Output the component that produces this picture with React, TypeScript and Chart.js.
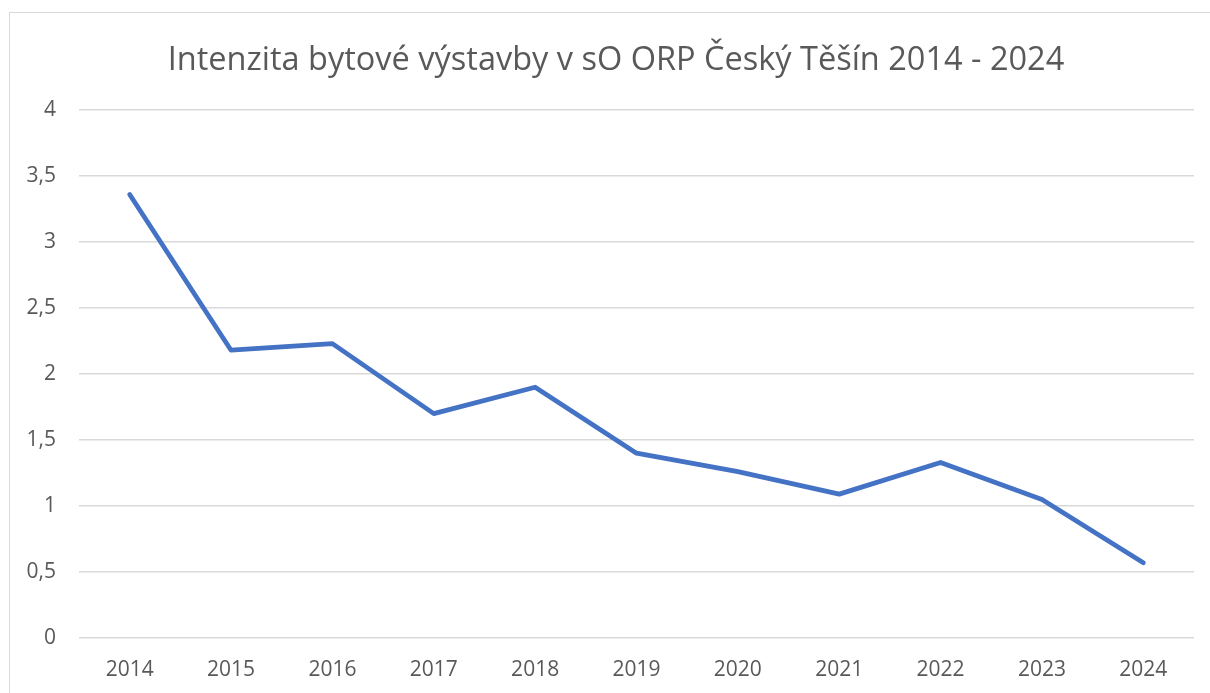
import React, { useEffect, useRef } from "react";
import { Chart, registerables } from "chart.js";

Chart.register(...registerables);

const categories = ["2014", "2015", "2016", "2017", "2018", "2019", "2020", "2021", "2022", "2023", "2024"];
const intensity = [3.36, 2.18, 2.23, 1.7, 1.9, 1.4, 1.26, 1.09, 1.33, 1.05, 0.57];
const titleText = "Intenzita bytové výstavby v sO ORP Český Těšín 2014 - 2024";

const titlePlugin = {
  id: "offsetTitle",
  afterDraw(chart: any) {
    const ctx = chart.ctx;
    ctx.save();
    ctx.font = "32.5px 'Open Sans'";
    ctx.fillStyle = "#595959";
    ctx.textAlign = "center";
    ctx.textBaseline = "middle";
    ctx.fillText(titleText, 606, 48);
    ctx.restore();
  },
};

export default function App() {
  const ref = useRef<HTMLCanvasElement | null>(null);

  useEffect(() => {
    if (!ref.current) return;
    const chart = new Chart(ref.current, {
      type: "line",
      data: {
        labels: categories,
        datasets: [
          {
            data: intensity,
            borderColor: "#4472C4",
            backgroundColor: "#4472C4",
            borderWidth: 4.75,
            pointRadius: 0,
            tension: 0,
            borderCapStyle: "round",
            borderJoinStyle: "round",
          },
        ],
      },
      plugins: [titlePlugin],
      options: {
        animation: false,
        responsive: false,
        maintainAspectRatio: false,
        layout: { padding: { left: 0, right: 16, top: 97, bottom: 11 } },
        plugins: {
          legend: { display: false },
          tooltip: { enabled: false },
          title: { display: false },
        },
        scales: {
          x: {
            offset: true,
            afterFit: (scale: any) => {
              scale.height = 44;
            },
            grid: { display: false, drawTicks: false },
            border: { display: false },
            ticks: {
              color: "#595959",
              font: { family: "'Open Sans'", size: 21 },
              padding: 19,
              maxRotation: 0,
            },
          },
          y: {
            min: 0,
            max: 4,
            afterFit: (scale: any) => {
              scale.width = 69;
            },
            grid: { color: "#d9d9d9", lineWidth: 1.5, drawTicks: false },
            border: { display: false },
            ticks: {
              stepSize: 0.5,
              color: "#595959",
              font: { family: "'Open Sans'", size: 21 },
              padding: 23,
              callback: (v: any) => String(v).replace(".", ","),
            },
          },
        },
      },
    });
    return () => chart.destroy();
  }, []);

  return (
    <div
      style={{
        position: "fixed",
        left: 9,
        top: 12,
        width: 1201,
        height: 681,
        borderLeft: "1px solid #d9d9d9",
        borderTop: "1px solid #d9d9d9",
        background: "#fff",
        boxSizing: "border-box",
      }}
    >
      <canvas ref={ref} width={1200} height={680} style={{ display: "block" }} />
    </div>
  );
}
